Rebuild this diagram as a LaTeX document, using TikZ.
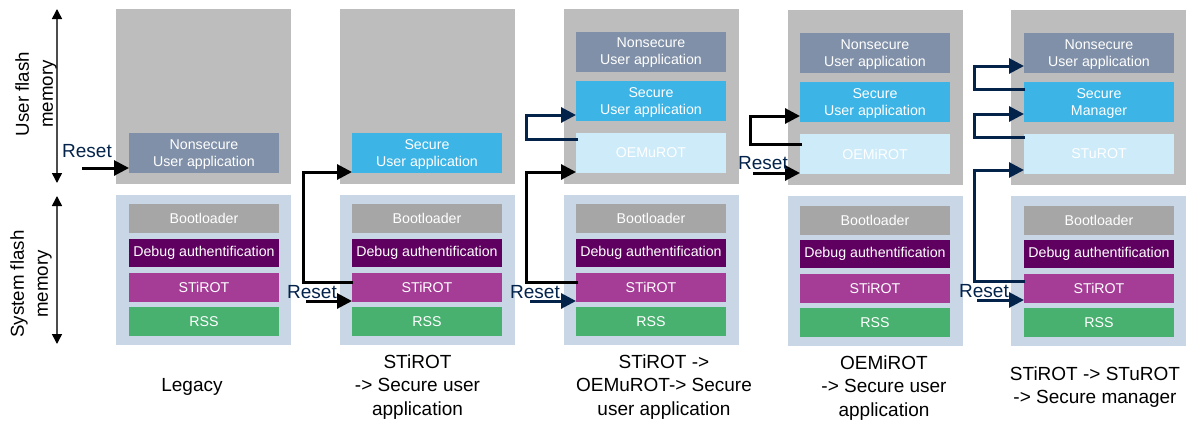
\documentclass[tikz,border=0pt]{standalone}
\usepackage{fontspec}
\setmainfont{Liberation Sans}
\usetikzlibrary{arrows.meta}
\definecolor{usergray}{HTML}{BDBDBD}
\definecolor{sysblue}{HTML}{C8D6E6}
\definecolor{nonsec}{HTML}{8090A8}
\definecolor{secblue}{HTML}{3CB4E6}
\definecolor{oemblue}{HTML}{CEEBF9}
\definecolor{bootgray}{HTML}{A6A6A6}
\definecolor{debugpurple}{HTML}{5F0060}
\definecolor{stimag}{HTML}{A53D97}
\definecolor{rssgreen}{HTML}{49B170}
\definecolor{navy}{HTML}{03234B}
\tikzset{
  area/.style={inner sep=0pt,outer sep=0pt,minimum width=175pt},
  usermem/.style={area,fill=usergray,minimum height=175pt},
  sysmem/.style={area,fill=sysblue,minimum height=150pt},
  blk/.style={inner sep=0pt,outer sep=0pt,minimum width=150pt,text=white,align=center,
    font=\fontsize{14.2}{17}\selectfont},
  boot/.style={blk,fill=bootgray,minimum height=29pt},
  dbg/.style={blk,fill=debugpurple,minimum height=28pt},
  sti/.style={blk,fill=stimag,minimum height=29pt},
  rss/.style={blk,fill=rssgreen,minimum height=29pt},
  nstop/.style={blk,fill=nonsec,minimum height=40pt,text height=27.5pt},
  ns/.style={blk,fill=nonsec,minimum height=40pt,text height=29.5pt},
  secb/.style={blk,fill=secblue,minimum height=40pt,text height=29.5pt},
  oem/.style={blk,fill=oemblue,minimum height=40pt},
  flowk/.style={line width=3pt,black,-{Triangle[length=15pt,width=15pt]}},
  flown/.style={line width=3pt,navy,-{Triangle[length=15pt,width=15pt]}},
  axisline/.style={line width=1.5pt,black!70,{Triangle[length=10pt,width=10pt,black]}-{Triangle[length=10pt,width=10pt,black]}},
  rst/.style={inner sep=0pt,text=navy,font=\fontsize{19}{22}\selectfont},
  captxt/.style={inner sep=0pt,align=center,font=\fontsize{19}{23.5}\selectfont},
  side/.style={inner sep=0pt,align=center,rotate=90,font=\fontsize{18.7}{24}\selectfont},
}
\begin{document}
\begin{tikzpicture}[x=1pt,y=-1pt]
\useasboundingbox (0,0) rectangle (1187,421);
% memory areas
\node[usermem] (u1) at (203.5,96.5) {};
\node[sysmem]  (m1) at (203.5,270) {};
\node[usermem] (u2) at (427.5,96.5) {};
\node[sysmem]  (m2) at (427.5,270) {};
\node[usermem] (u3) at (651.5,96.5) {};
\node[sysmem]  (m3) at (651.5,270) {};
\node[usermem] (u4) at (875.5,97.5) {};
\node[sysmem]  (m4) at (875.5,271) {};
\node[usermem] (u5) at (1098.5,97.5) {};
\node[sysmem]  (m5) at (1098.5,271) {};
% column 1
\node[ns] (a1) at (204,153) {Nonsecure\\User application};
\node[boot] (b1) at (204,218.5) {Bootloader};
\node[dbg] (d1) at (204,253) {Debug authentification};
\node[sti] (s1) at (204,287.5) {STiROT};
\node[rss] (r1) at (204,321.5) {RSS};
% column 2
\node[secb] (a2) at (427,153) {Secure\\User application};
\node[boot] (b2) at (427,218.5) {Bootloader};
\node[dbg] (d2) at (427,253) {Debug authentification};
\node[sti] (s2) at (427,287.5) {STiROT};
\node[rss] (r2) at (427,321.5) {RSS};
% column 3
\node[nstop] (n3) at (651,52) {Nonsecure\\User application};
\node[secb] (c3) at (651,101) {Secure\\User application};
\node[oem] (a3) at (651,153) {OEMuROT};
\node[boot] (b3) at (651,218.5) {Bootloader};
\node[dbg] (d3) at (651,253) {Debug authentification};
\node[sti] (s3) at (651,287.5) {STiROT};
\node[rss] (r3) at (651,321.5) {RSS};
% column 4
\node[ns] (n4) at (875,53) {Nonsecure\\User application};
\node[secb] (c4) at (875,102) {Secure\\User application};
\node[oem] (a4) at (875,154) {OEMiROT};
\node[boot] (b4) at (875,220.5) {Bootloader};
\node[dbg] (d4) at (875,254) {Debug authentification};
\node[sti] (s4) at (875,288.5) {STiROT};
\node[rss] (r4) at (875,322.5) {RSS};
% column 5
\node[ns] (n5) at (1099,53) {Nonsecure\\User application};
\node[secb] (c5) at (1099,102) {Secure\\Manager};
\node[oem] (a5) at (1099,154) {STuROT};
\node[boot] (b5) at (1099,220.5) {Bootloader};
\node[dbg] (d5) at (1099,254) {Debug authentification};
\node[sti] (s5) at (1099,288.5) {STiROT};
\node[rss] (r5) at (1099,322.5) {RSS};
% side axes
\coordinate (ut) at (57,9);
\coordinate (ub) at (57,183);
\coordinate (st) at (57,196);
\coordinate (sb) at (57,344);
\draw[axisline] (ut) -- (ub);
\draw[axisline] (st) -- (sb);
\node[side] (lu) at (36,94) {User flash\\memory};
\node[side] (ls) at (31,284) {System flash\\memory};
% reset arrows
\coordinate (e1) at (82,168);
\coordinate (e2) at (306,301);
\coordinate (e3) at (530,301);
\coordinate (e4) at (753,173);
\coordinate (e5) at (977,300);
\draw[flowk] (e1) -- (a1.west |- e1);
\draw[flowk] (e2) -- (s2.west |- e2);
\draw[flown] (e3) -- (s3.west |- e3);
\draw[flowk] (e4) -- (a4.west |- e4);
\draw[flown] (e5) -- (s5.west |- e5);
% boot chain arrows
\draw[flowk] ([xshift=1pt,yshift=5.5pt]s2.west) -- ++(-50,0) |- ([yshift=-19pt]a2.west);
\draw[flowk] ([xshift=2pt,yshift=5.5pt]s3.west) -- ++(-52,0) |- ([yshift=-19pt]a3.west);
\draw[flown] ([xshift=2pt,yshift=14pt]a3.west) -- ++(-52,0) |- ([yshift=-14pt]c3.west);
\draw[flowk] ([xshift=2pt,yshift=10pt]a4.west) -- ++(-52,0) |- ([yshift=-14pt]c4.west);
\draw[flown] ([xshift=1pt,yshift=7.5pt]s5.west) -- ++(-51,0) |- ([yshift=-16pt]a5.west);
\draw[flown] ([xshift=1pt,yshift=17pt]a5.west) -- ++(-51,0) |- ([yshift=-12pt]c5.west);
\draw[flown] ([xshift=1pt,yshift=13pt]c5.west) -- ++(-51,0) |- ([yshift=-13pt]n5.west);
% Reset labels
\node[rst] (t1) at (87,151) {Reset};
\node[rst] (t2) at (312,292) {Reset};
\node[rst] (t3) at (535,292) {Reset};
\node[rst] (t4) at (763,163) {Reset};
\node[rst] (t5) at (984,291) {Reset};
% captions
\node[captxt] (k1) at (192,387) {Legacy};
\node[captxt] (k2) at (417.5,387) {STiROT\\-> Secure user\\application};
\node[captxt] (k3) at (664,387) {STiROT ->\\OEMuROT-> Secure\\user application};
\node[captxt] (k4) at (884,388) {OEMiROT\\-> Secure user\\application};
\node[captxt] (k5) at (1095,387) {STiROT -> STuROT\\-> Secure manager};
\end{tikzpicture}
\end{document}
